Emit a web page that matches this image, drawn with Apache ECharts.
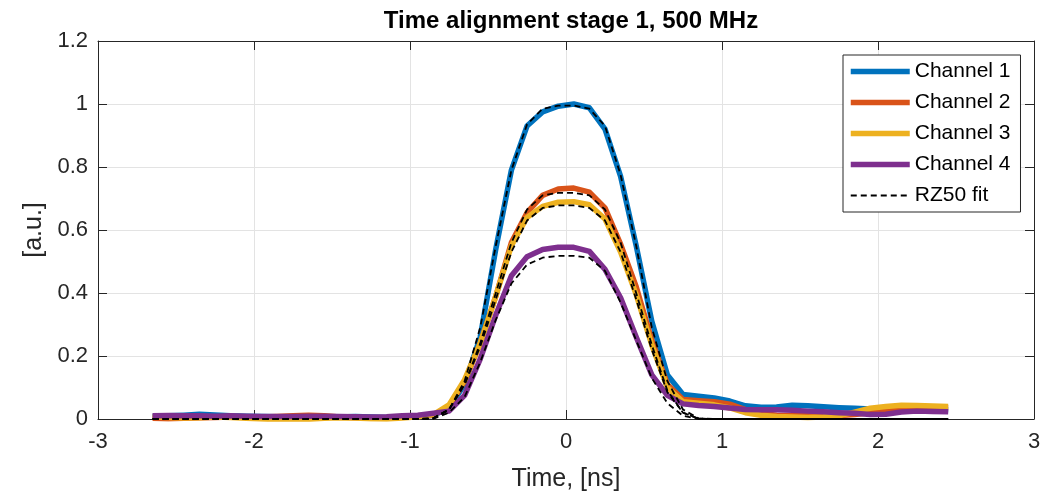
<!DOCTYPE html>
<html>
<head>
<meta charset="utf-8">
<script src="https://cdn.jsdelivr.net/npm/echarts@6/dist/echarts.min.js"></script>
<style>
  html, body { margin: 0; padding: 0; background: #fff; }
  #chart { width: 1060px; height: 497px; }
</style>
</head>
<body>
<div id="chart"></div>
<script>
// time axis, ns
const timeNs = [
  -2.65, -2.55, -2.45, -2.35, -2.25, -2.15, -2.05, -1.95, -1.85, -1.75,
  -1.65, -1.55, -1.45, -1.35, -1.25, -1.15, -1.05, -0.95, -0.85, -0.75,
  -0.65, -0.55, -0.45, -0.35, -0.25, -0.15, -0.05, 0.05, 0.15, 0.25,
  0.35, 0.45, 0.55, 0.65, 0.75, 0.85, 0.95, 1.05, 1.15, 1.25,
  1.35, 1.45, 1.55, 1.65, 1.75, 1.85, 1.95, 2.05, 2.15, 2.25,
  2.35, 2.45
];

const channel1 = [
  0.008, 0.010, 0.012, 0.015, 0.013, 0.010, 0.009, 0.008, 0.007, 0.006,
  0.008, 0.007, 0.006, 0.008, 0.006, 0.005, 0.006, 0.008, 0.012, 0.035,
  0.11, 0.26, 0.54, 0.79, 0.93, 0.975, 0.993, 1.0, 0.988, 0.92,
  0.77, 0.55, 0.31, 0.14, 0.078, 0.072, 0.067, 0.057, 0.042, 0.037,
  0.038, 0.044, 0.042, 0.039, 0.036, 0.034, 0.032, 0.031, 0.030, 0.030,
  0.029, 0.029
];
const channel2 = [
  0.002, 0.001, 0.002, 0.004, 0.005, 0.006, 0.007, 0.006, 0.008, 0.010,
  0.012, 0.010, 0.006, 0.004, 0.003, 0.004, 0.006, 0.008, 0.012, 0.04,
  0.12, 0.24, 0.39, 0.56, 0.655, 0.71, 0.73, 0.733, 0.72, 0.67,
  0.555, 0.42, 0.25, 0.11, 0.062, 0.058, 0.055, 0.047, 0.03, 0.018,
  0.012, 0.010, 0.010, 0.010, 0.011, 0.014, 0.020, 0.026, 0.032, 0.035,
  0.036, 0.036
];
const channel3 = [
  0.006, 0.005, 0.003, 0.004, 0.006, 0.005, 0.002, 0.000, -0.002, -0.003,
  -0.001, 0.002, 0.004, 0.003, 0.001, 0.000, 0.003, 0.007, 0.014, 0.045,
  0.125, 0.24, 0.39, 0.55, 0.64, 0.675, 0.688, 0.69, 0.68, 0.635,
  0.53, 0.395, 0.235, 0.10, 0.055, 0.05, 0.045, 0.035, 0.02, 0.012,
  0.008, 0.006, 0.005, 0.006, 0.010, 0.022, 0.034, 0.040, 0.044, 0.043,
  0.041, 0.040
];
const channel4 = [
  0.010, 0.011, 0.010, 0.010, 0.009, 0.010, 0.009, 0.008, 0.008, 0.008,
  0.009, 0.009, 0.008, 0.007, 0.006, 0.007, 0.010, 0.012, 0.018, 0.025,
  0.075, 0.19, 0.33, 0.455, 0.515, 0.538, 0.545, 0.545, 0.532, 0.475,
  0.385, 0.26, 0.14, 0.075, 0.048, 0.043, 0.040, 0.035, 0.030, 0.029,
  0.029, 0.028, 0.025, 0.023, 0.020, 0.018, 0.014, 0.015, 0.022, 0.025,
  0.024, 0.023
];

// RZ50 fits, one per channel
const fit1 = [
  0, 0, 0, 0, 0, 0, 0, 0, 0, 0,
  0, 0, 0, 0, 0, 0, 0, 0, 0.003, 0.03,
  0.12, 0.29, 0.55, 0.79, 0.935, 0.985, 0.995, 0.995, 0.985, 0.93,
  0.775, 0.55, 0.29, 0.12, 0.03, 0.002, 0, 0, 0, 0,
  0, 0, 0, 0, 0, 0, 0, 0, 0, 0,
  0, 0
];
const fit2 = [
  0, 0, 0, 0, 0, 0, 0, 0, 0, 0,
  0, 0, 0, 0, 0, 0, 0, 0, 0.002, 0.03,
  0.11, 0.24, 0.40, 0.56, 0.665, 0.71, 0.718, 0.718, 0.71, 0.665,
  0.56, 0.40, 0.235, 0.09, 0.02, 0.001, 0, 0, 0, 0,
  0, 0, 0, 0, 0, 0, 0, 0, 0, 0,
  0, 0
];
const fit3 = [
  0, 0, 0, 0, 0, 0, 0, 0, 0, 0,
  0, 0, 0, 0, 0, 0, 0, 0, 0.002, 0.03,
  0.11, 0.23, 0.38, 0.53, 0.63, 0.67, 0.678, 0.678, 0.67, 0.63,
  0.53, 0.38, 0.22, 0.085, 0.02, 0.001, 0, 0, 0, 0,
  0, 0, 0, 0, 0, 0, 0, 0, 0, 0,
  0, 0
];
const fit4 = [
  0, 0, 0, 0, 0, 0, 0, 0, 0, 0,
  0, 0, 0, 0, 0, 0, 0, 0, 0.001, 0.02,
  0.07, 0.18, 0.315, 0.43, 0.49, 0.512, 0.518, 0.518, 0.512, 0.47,
  0.37, 0.25, 0.13, 0.05, 0.01, 0, 0, 0, 0, 0,
  0, 0, 0, 0, 0, 0, 0, 0, 0, 0,
  0, 0
];

const channelNames = ['Channel 1', 'Channel 2', 'Channel 3', 'Channel 4'];
const channelColors = ['#0072BD', '#D95319', '#EDB120', '#7E2F8E'];
const fitName = 'RZ50 fit';

const font = 'Liberation Sans, Arial, Helvetica, sans-serif';
const axisColor = '#262626';

const pairs = (ys) => timeNs.map((t, i) => [t, ys[i]]);

const chart = echarts.init(document.getElementById('chart'));

let series = [];
[channel1, channel2, channel3, channel4].forEach((ys, i) => {
    series.push({
        name: channelNames[i],
        type: 'line',
        data: pairs(ys),
        symbol: 'none',
        xAxisIndex: 0,
        yAxisIndex: 0,
        lineStyle: { color: channelColors[i], width: 5.5, join: 'round' },
        itemStyle: { color: channelColors[i] },
        z: 2
    });
});
[fit1, fit2, fit3, fit4].forEach((ys) => {
    series.push({
        name: fitName,
        type: 'line',
        data: pairs(ys),
        symbol: 'none',
        xAxisIndex: 0,
        yAxisIndex: 0,
        lineStyle: { color: '#000', width: 1.8, type: [6, 4] },
        itemStyle: { color: '#000' },
        z: 3
    });
});

const option = {
    animation: false,
    backgroundColor: '#fff',
    textStyle: { fontFamily: font },
    title: {
        text: 'Time alignment stage 1, 500 MHz',
        left: 566,
        top: 4,
        textAlign: 'center',
        textStyle: { fontFamily: font, fontSize: 24, fontWeight: 'bold', color: '#000' }
    },
    grid: { left: 98, right: 26, top: 41, bottom: 78 },
    legend: {
        data: channelNames.concat([fitName]),
        orient: 'vertical',
        left: 843,
        top: 55,
        width: 177,
        padding: [6, 10, 6, 5],
        itemWidth: 59,
        itemHeight: 20,
        itemGap: 10,
        backgroundColor: '#fff',
        borderColor: axisColor,
        borderWidth: 1,
        itemStyle: { opacity: 0 },
        lineStyle: { width: 'inherit' },
        textStyle: { fontFamily: font, fontSize: 21, color: '#000', lineHeight: 20 }
    },
    xAxis: [
        {
            type: 'value',
            min: -3, max: 3, interval: 1,
            name: 'Time, [ns]',
            nameLocation: 'middle',
            nameGap: 48,
            nameTextStyle: { fontFamily: font, fontSize: 25, color: axisColor },
            axisLine: { show: true, onZero: false, lineStyle: { color: axisColor, width: 1 } },
            axisTick: { show: true, inside: true, length: 9, lineStyle: { color: axisColor } },
            axisLabel: { fontFamily: font, fontSize: 22, color: axisColor, margin: 12 },
            splitLine: { show: true, lineStyle: { color: '#e3e3e3', width: 1 } }
        },
        {
            type: 'value',
            position: 'top',
            min: -3, max: 3, interval: 1,
            axisLine: { show: true, onZero: false, lineStyle: { color: axisColor, width: 1 } },
            axisTick: { show: true, inside: true, length: 9, lineStyle: { color: axisColor } },
            axisLabel: { show: false },
            splitLine: { show: false }
        }
    ],
    yAxis: [
        {
            type: 'value',
            min: 0, max: 1.2, interval: 0.2,
            name: '[a.u.]',
            nameLocation: 'middle',
            nameGap: 50,
            nameTextStyle: { fontFamily: font, fontSize: 25, color: axisColor },
            axisLine: { show: true, onZero: false, lineStyle: { color: axisColor, width: 1 } },
            axisTick: { show: true, inside: true, length: 9, lineStyle: { color: axisColor } },
            axisLabel: {
                fontFamily: font, fontSize: 22, color: axisColor, margin: 10,
                formatter: (v) => String(+v.toFixed(1))
            },
            splitLine: { show: true, lineStyle: { color: '#e3e3e3', width: 1 } }
        },
        {
            type: 'value',
            position: 'right',
            min: 0, max: 1.2, interval: 0.2,
            axisLine: { show: true, onZero: false, lineStyle: { color: axisColor, width: 1 } },
            axisTick: { show: true, inside: true, length: 9, lineStyle: { color: axisColor } },
            axisLabel: { show: false },
            splitLine: { show: false }
        }
    ],
    series: series
};

chart.setOption(option);
</script>
</body>
</html>
